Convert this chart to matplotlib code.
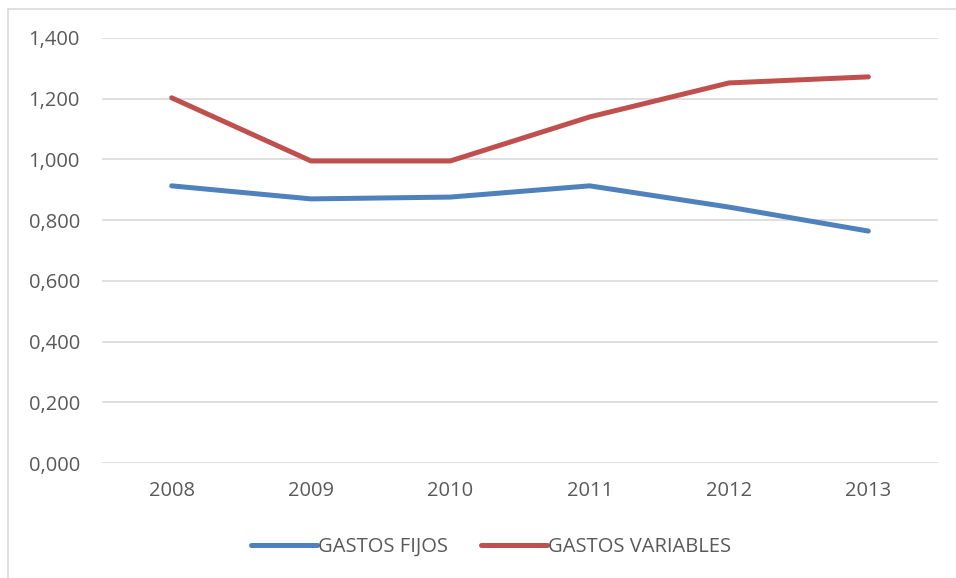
import matplotlib
matplotlib.use("Agg")
import matplotlib.pyplot as plt
from matplotlib.lines import Line2D

plt.rcParams['font.family'] = ['Open Sans', 'DejaVu Sans']

years = ['2008', '2009', '2010', '2011', '2012', '2013']
gastos_fijos = [0.913, 0.870, 0.876, 0.913, 0.843, 0.764]
gastos_variables = [1.203, 0.995, 0.995, 1.140, 1.252, 1.272]
yticks = [0.0, 0.2, 0.4, 0.6, 0.8, 1.0, 1.2, 1.4]

W, H = 956, 578
fig = plt.figure(figsize=(W / 100, H / 100), dpi=100)
ax = fig.add_axes([102 / W, 1 - 463 / H, (938 - 102) / W, (463 - 38) / H])

x = list(range(len(years)))
ax.plot(x, gastos_fijos, color='#4F81BD', lw=3.6, solid_capstyle='round',
        solid_joinstyle='round', label='GASTOS FIJOS', zorder=3)
ax.plot(x, gastos_variables, color='#C0504D', lw=3.6, solid_capstyle='round',
        solid_joinstyle='round', label='GASTOS VARIABLES', zorder=3)

ax.set_xlim(-0.5, len(years) - 0.5)
ax.set_ylim(0, 1.4)
ax.set_yticks(yticks)
ax.set_yticklabels([f"{v:.3f}".replace('.', ',') for v in yticks])
ax.set_xticks(x)
ax.set_xticklabels(years)
ax.tick_params(length=0, labelsize=14.5, colors='#595959')
ax.tick_params(axis='y', pad=16)
ax.tick_params(axis='x', pad=13)
ax.grid(axis='y', color='#D9D9D9', lw=1.2)
ax.set_axisbelow(True)
for s in ax.spines.values():
    s.set_visible(False)

handles = [Line2D([], [], color='#4F81BD', lw=3.6, solid_capstyle='round'),
           Line2D([], [], color='#C0504D', lw=3.6, solid_capstyle='round')]
leg = fig.legend(handles, ['GASTOS FIJOS', 'GASTOS VARIABLES'], loc='center',
                 bbox_to_anchor=(491 / W, 1 - 547 / H), ncol=2, frameon=False,
                 fontsize=14.5, handlelength=3.3, handletextpad=0.05, columnspacing=1.6)
for t in leg.get_texts():
    t.set_color('#595959')

# chart frame (left and top edges visible)
fig.add_artist(Line2D([8 / W, 8 / W], [0, 1 - 9 / H], color='#D9D9D9', lw=1.2,
                      transform=fig.transFigure))
fig.add_artist(Line2D([8 / W, 1], [1 - 9 / H, 1 - 9 / H], color='#D9D9D9', lw=1.2,
                      transform=fig.transFigure))

fig.savefig('out.png', dpi=100)
